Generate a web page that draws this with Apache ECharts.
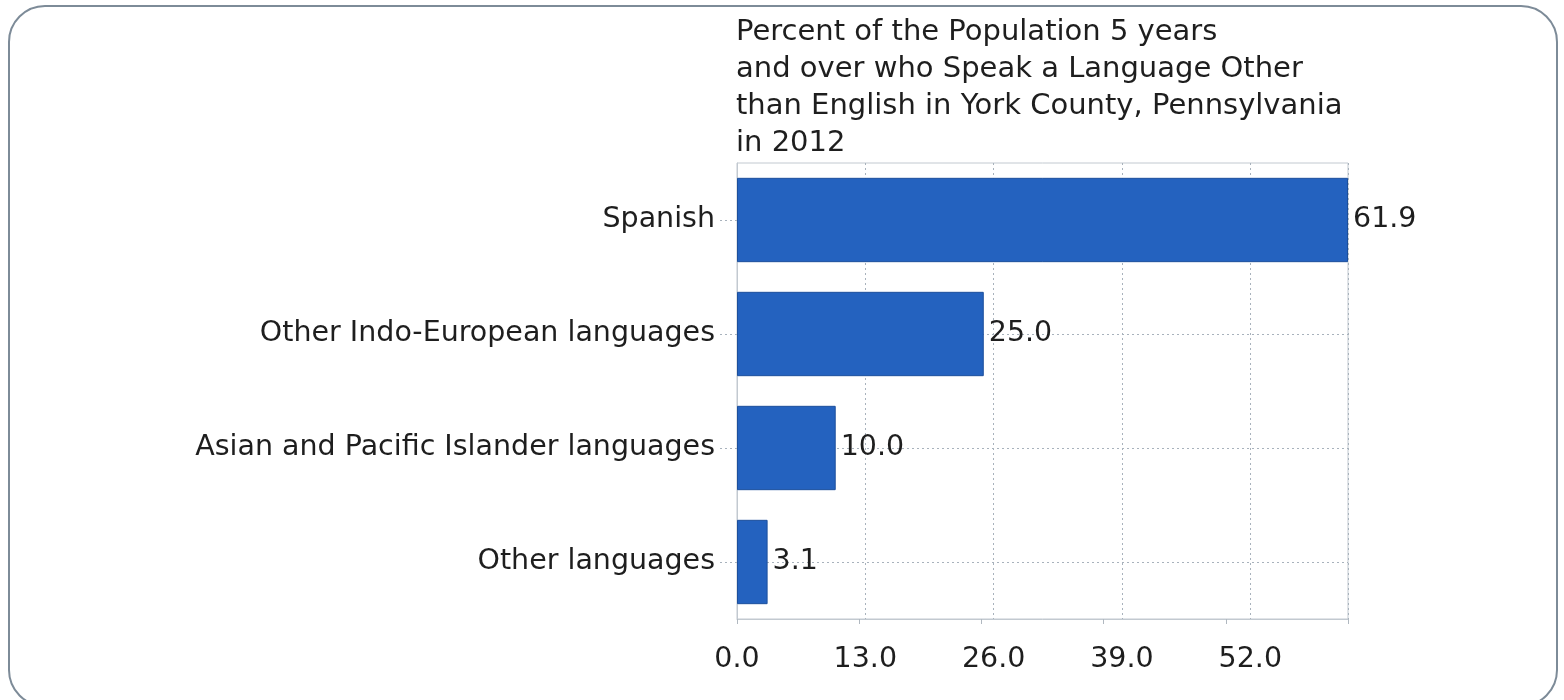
<!DOCTYPE html>
<html>
<head>
<meta charset="utf-8">
<script src="https://cdn.jsdelivr.net/npm/echarts@6/dist/echarts.min.js"></script>
<style>
html,body{margin:0;padding:0;background:#fff;}
#chart{width:1564px;height:700px;}
</style>
</head>
<body>
<div id="chart"></div>
<script>
const titleText = 'Percent of the Population 5 years\nand over who Speak a Language Other\nthan English in York County, Pennsylvania\nin 2012';
const categories = ['Spanish', 'Other Indo-European languages', 'Asian and Pacific Islander languages', 'Other languages'];
const values = [61.9, 25.0, 10.0, 3.1];
const xTickInterval = 13;
const xMax = 61.9;
const tickMarkDivisions = 5;

const FONT = 'DejaVu Sans';
const chart = echarts.init(document.getElementById('chart'), null, {renderer: 'canvas'});
chart.setOption({
  animation: false,
  backgroundColor: '#fff',
  graphic: [{
    type: 'rect',
    shape: {x: 9, y: 6, width: 1548, height: 700, r: 36},
    style: {fill: 'none', stroke: '#7d8b98', lineWidth: 2},
    silent: true, z: 0
  }],
  title: {
    text: titleText,
    left: 731, top: 9,
    textStyle: {fontFamily: FONT, fontSize: 29, fontWeight: 'normal', color: '#1e1e1e', lineHeight: 37}
  },
  grid: {left: 737, right: 216, top: 163, bottom: 81, show: true, borderColor: '#c2c9d0', borderWidth: 1, containLabel: false},
  xAxis: [{
    type: 'value', min: 0, max: xMax, interval: xTickInterval,
    axisLine: {show: true, lineStyle: {color: '#c2c9d0'}},
    axisTick: {show: false},
    splitLine: {show: true, lineStyle: {color: '#a8b2bc', type: [2, 3], width: 1}},
    axisLabel: {showMaxLabel: false, margin: 26, fontFamily: FONT, fontSize: 28.5, color: '#1e1e1e', formatter: v => v.toFixed(1)}
  }, {
    type: 'value', min: 0, max: tickMarkDivisions, interval: 1, position: 'bottom',
    axisLine: {show: false},
    axisTick: {show: true, length: 5, lineStyle: {color: '#b0b8c0'}},
    splitLine: {show: false},
    axisLabel: {show: false}
  }],
  yAxis: {
    type: 'category', data: categories, inverse: true,
    axisLine: {show: true, lineStyle: {color: '#c2c9d0'}},
    axisTick: {show: true, alignWithLabel: true, length: 18, lineStyle: {color: '#a8b2bc', type: [2, 3]}},
    splitLine: {show: true, alignWithLabel: true, lineStyle: {color: '#a8b2bc', type: [2, 3]}},
    axisLabel: {margin: 22, fontFamily: FONT, fontSize: 28.5, color: '#1e1e1e'}
  },
  series: [{
    type: 'bar', xAxisIndex: 0, data: values, barCategoryGap: '26%',
    itemStyle: {color: '#2462bf', borderColor: '#1c4f9c', borderWidth: 1},
    label: {show: true, position: 'right', distance: 5, fontFamily: FONT, fontSize: 28.5, color: '#1e1e1e', formatter: p => p.value.toFixed(1)}
  }]
});
</script>
</body>
</html>
